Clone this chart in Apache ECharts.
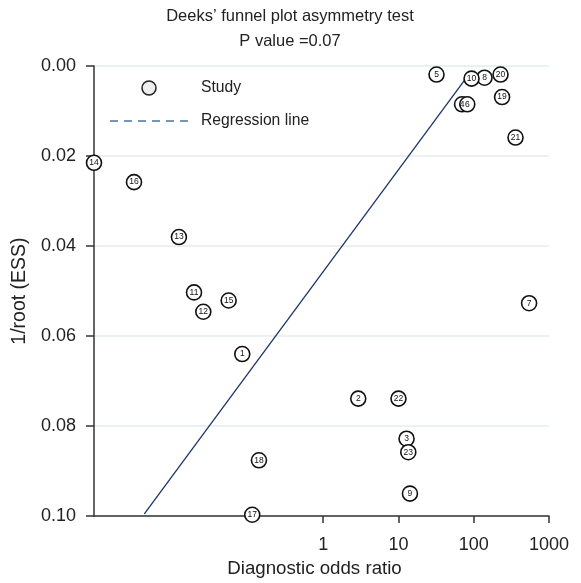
<!DOCTYPE html>
<html>
<head>
<meta charset="utf-8">
<script src="https://cdn.jsdelivr.net/npm/echarts@6/dist/echarts.min.js"></script>
<style>html,body{margin:0;padding:0;background:#fff;}#c{width:581px;height:583px;}</style>
</head>
<body>
<div id="c"></div>
<script>
// Study data: diagnostic odds ratio (x) and 1/root(ESS) (y)
const studyIds = ['1','2','3','4','5','6','7','8','9','10','11','12','13','14','15','16','17','18','19','20','21','22','23'];
const oddsRatios = [0.084, 2.92, 12.8, 70, 32, 82, 544, 139, 14.2, 93.5, 0.0192, 0.0255, 0.0121, 0.0009, 0.0554, 0.00306, 0.114, 0.14, 238, 227, 359, 10.0, 13.5];
const invRootESS = [0.0640, 0.0739, 0.0828, 0.0085, 0.0019, 0.0085, 0.0527, 0.0026, 0.0950, 0.0028, 0.0503, 0.0546, 0.0380, 0.0215, 0.0521, 0.0258, 0.0997, 0.0876, 0.0069, 0.0019, 0.0159, 0.0739, 0.0858];
const regressionX = [0.0042, 80];
const regressionY = [0.0995, 0.0026];
const xTickValues = [1, 10, 100, 1000];
const yTicks = [0, 0.02, 0.04, 0.06, 0.08, 0.1];

const studyData = studyIds.map((id, i) => ({ value: [oddsRatios[i], invRootESS[i]], name: id }));
const lineData = regressionX.map((x, i) => [x, regressionY[i]]);

const FONT = '"Liberation Sans", Arial, Helvetica, sans-serif';
const chart = echarts.init(document.getElementById('c'));
chart.setOption({
  backgroundColor: '#fff',
  animation: false,
  textStyle: { fontFamily: FONT },
  title: {
    text: "Deeks’ funnel plot asymmetry test\nP value =0.07",
    left: 285, top: -1, textAlign: 'center',
    textStyle: { fontFamily: FONT, fontSize: 16.5, fontWeight: 'normal', color: '#222', lineHeight: 25 }
  },
  grid: { left: 94, right: 32, top: 66, bottom: 62, containLabel: false },
  xAxis: {
    type: 'log', logBase: 10, min: 0.0009, max: 1000,
    name: 'Diagnostic odds ratio', nameLocation: 'middle', nameGap: 42,
    nameTextStyle: { fontFamily: FONT, fontSize: 18.7, color: '#222', padding: [0, 14, 0, 0] },
    axisLine: { show: true, onZero: false, lineStyle: { color: '#333', width: 1.5 } },
    axisTick: { show: true, inside: false, length: 7, lineStyle: { color: '#333', width: 1.5 }, customValues: xTickValues },
    axisLabel: { fontFamily: FONT, fontSize: 18, color: '#222', margin: 20, customValues: xTickValues,
      formatter: v => (v >= 1 ? String(Math.round(v)) : '') },
    splitLine: { show: false },
    minorTick: { show: false }
  },
  yAxis: {
    type: 'value', inverse: true, min: 0, max: 0.1, interval: 0.02,
    name: '1/root (ESS)', nameLocation: 'middle', nameGap: 64, nameRotate: 90,
    nameTextStyle: { fontFamily: FONT, fontSize: 19.5, color: '#222' },
    axisLine: { show: true, onZero: false, lineStyle: { color: '#333', width: 1.5 } },
    axisTick: { show: true, inside: false, length: 8, lineStyle: { color: '#333', width: 1.5 } },
    axisLabel: { fontFamily: FONT, fontSize: 18, color: '#222', margin: 18, formatter: v => v.toFixed(2) },
    splitLine: { show: true, lineStyle: { color: '#e2ecf1', width: 1.5 } }
  },
  graphic: [
    { type: 'circle', shape: { cx: 149, cy: 88, r: 7 }, style: { fill: '#eeeeee', stroke: '#222', lineWidth: 1.5 }, z: 10 },
    { type: 'text', x: 201, y: 88, style: { text: 'Study', fontFamily: FONT, fontSize: 15.7, fill: '#222', verticalAlign: 'middle' }, z: 10 },
    { type: 'line', shape: { x1: 110, y1: 121, x2: 190, y2: 121 }, style: { stroke: '#4a74a3', lineWidth: 1.3, lineDash: [8, 6] }, z: 10 },
    { type: 'text', x: 201, y: 121, style: { text: 'Regression line', fontFamily: FONT, fontSize: 15.7, fill: '#222', verticalAlign: 'middle' }, z: 10 }
  ],
  series: [
    {
      name: 'Regression line', type: 'line', data: lineData, showSymbol: false, symbol: 'none',
      lineStyle: { color: '#1c3468', width: 1.3 }, z: 2, clip: false
    },
    {
      name: 'Study', type: 'scatter', data: studyData, symbol: 'circle', symbolSize: 15, clip: false,
      itemStyle: { color: '#fff', borderColor: '#111', borderWidth: 1.6, opacity: 1 },
      label: { show: true, position: 'inside', formatter: p => p.name, fontFamily: FONT, fontSize: 8.5, color: '#111' },
      z: 5
    }
  ]
});
</script>
</body>
</html>
